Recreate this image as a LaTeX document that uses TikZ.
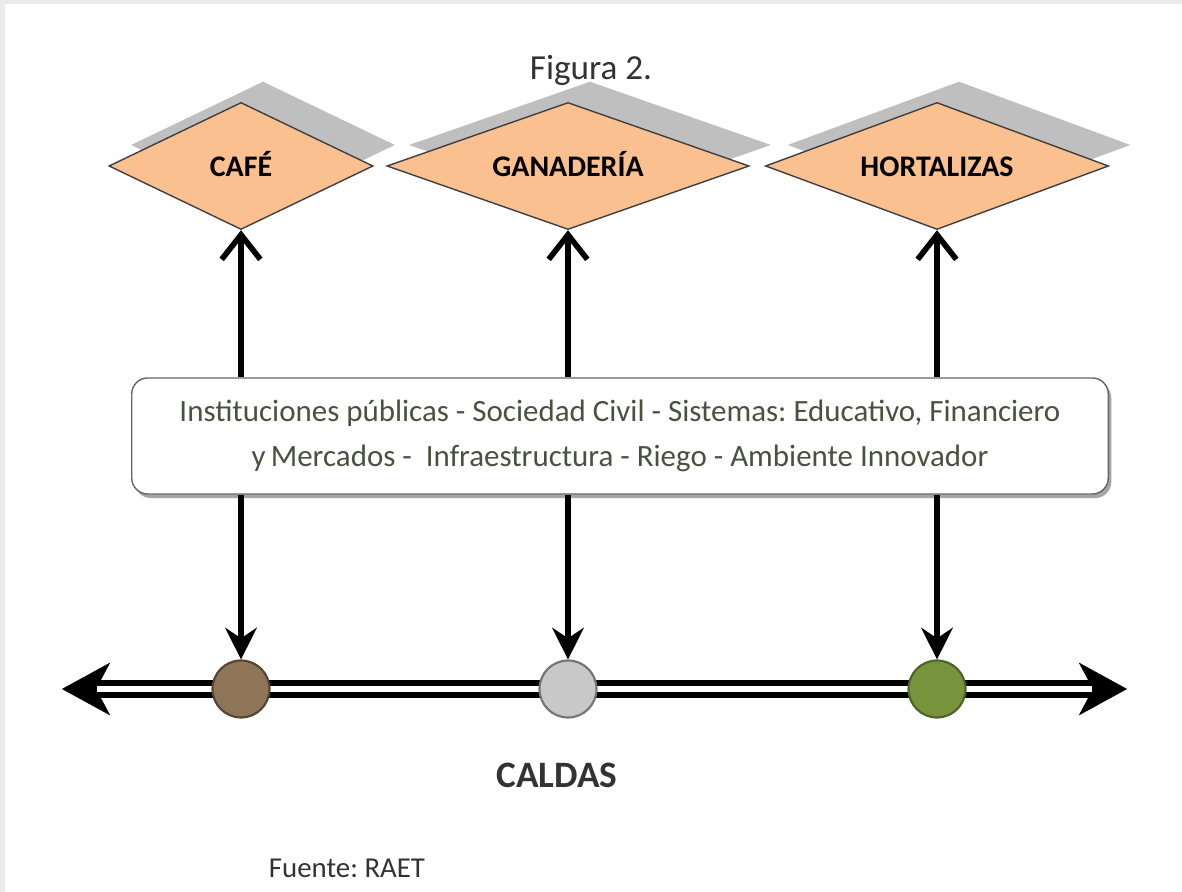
\documentclass[tikz,border=0pt]{standalone}
\usepackage{fontspec}
\setmainfont{Carlito}
\usepackage{tikz}
\usepackage{xcolor}
\usetikzlibrary{arrows.meta,shapes.geometric,shadows}
\frenchspacing
\definecolor{peach}{RGB}{250,192,144}
\definecolor{cafebrown}{RGB}{143,117,88}
\definecolor{cafeline}{RGB}{85,68,48}
\definecolor{cowgray}{RGB}{200,200,200}
\definecolor{cowline}{RGB}{115,115,115}
\definecolor{leafgreen}{RGB}{119,147,60}
\definecolor{leafline}{RGB}{79,98,40}
\definecolor{boxtext}{RGB}{72,82,62}
\tikzstyle{crop}	=[diamond, aspect=2.8, draw=black!75, thin, fill=peach, minimum height=1.27cm, inner sep=0pt, text height=0.62em, text depth=-0.06em, font=\bfseries\fontsize{8.5}{10}\selectfont, drop shadow={shadow xshift=0.22cm, shadow yshift=0.21cm, fill=black!25, opacity=1}]
\tikzstyle{factors}	=[rectangle, rounded corners=0.16cm, draw=black!60, fill=white, minimum width=9.76cm, minimum height=1.16cm, align=center, text=boxtext, font=\fontsize{8.8}{12.8}\selectfont, drop shadow={shadow xshift=0.03cm, shadow yshift=-0.04cm, fill=black!35, opacity=1}]
\tikzstyle{region}	=[circle, line width=0.6pt, minimum size=0.57cm, inner sep=0pt]
\tikzstyle{label0}	=[inner sep=0pt, text=black!80]
\tikzstyle{edgeup} 	= [draw, line width=1.6pt, -{Straight Barb[length=7pt,width=11pt]}]
\tikzstyle{edgedown} 	= [draw, line width=1.6pt, -{Stealth[length=9pt,width=9pt,inset=3pt]}]
\tikzstyle{axis} 	= [draw, line width=5.1pt, {Stealth[length=13.7pt,width=15pt,inset=4pt,line width=0.1pt]}-{Stealth[length=13.7pt,width=15pt,inset=4pt,line width=0.1pt]}]
\tikzstyle{axisgap} 	= [draw, white, line width=1.7pt, shorten <=0.35cm, shorten >=0.35cm]

\begin{document}
\begin{tikzpicture}[x=0.01cm, y=-0.01cm]

	%%%% frame
	\useasboundingbox (0,0) rectangle (1182,892);
	\fill[black!8] (0,0) rectangle (1182,892);
	\fill[white] (5,4) rectangle (1182,892);

	%%%% products
	\node[crop, minimum width=2.64cm] (cafe) at (241,166) {CAFÉ};
	\node[crop, minimum width=3.62cm] (ganaderia) at (568,166) {GANADERÍA};
	\node[crop, minimum width=3.43cm] (hortalizas) at (937,166) {HORTALIZAS};

	\node[label0, font=\fontsize{10}{12}\selectfont] (fig) at (591,70) {Figura 2.};

	%%%% territory factors
	\node[factors] (box) at (620,436) {Instituciones públicas - Sociedad Civil - Sistemas: Educativo, Financiero\\ y\,Mercados -\ \ Infraestructura - Riego - Ambiente Innovador};

	%%%% Caldas axis
	\coordinate (west) at (62,689);
	\coordinate (east) at (1127,689);
	\path[axis] (west) -- (east);
	\path[axisgap] (west) -- (east);

	\foreach \name/\src/\col/\edge in {r1/cafe/cafebrown/cafeline, r2/ganaderia/cowgray/cowline, r3/hortalizas/leafgreen/leafline}
	\node[region, fill=\col, draw=\edge] (\name) at (\src |- west) {};

	\node[label0, font=\bfseries\fontsize{10.6}{12}\selectfont] (caldas) at (557,775) {CALDAS};
	\node[label0, font=\fontsize{8.2}{10}\selectfont] (fuente) at (347,868) {Fuente: RAET};

	%%%% links
	\foreach \dest in {cafe,ganaderia,hortalizas}	\path[edgeup] (\dest |- box.north) -- (\dest.south);
	\foreach \source/ \dest in {cafe/r1,ganaderia/r2,hortalizas/r3}	\path[edgedown] (\source |- box.south) -- (\dest.north);
\end{tikzpicture}
\end{document}
